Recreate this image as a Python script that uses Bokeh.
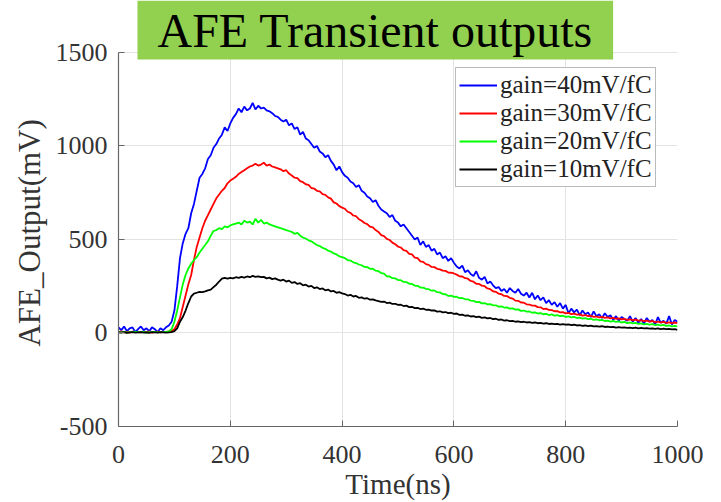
from bokeh.plotting import figure
from bokeh.models import Range1d, FixedTicker, Legend, LegendItem, Label
from bokeh.embed import file_html
from bokeh.resources import INLINE

time_ns = list(range(0, 1001, 5))

gain40 = [30,15,35,10,25,30,5,20,35,15,25,10,30,20,5,25,15,30,40,60,
          120,250,400,480,530,560,640,690,760,830,850,880,930,950,990,1010,1040,1060,1100,1080,
          1120,1150,1170,1200,1180,1210,1190,1200,1230,1195,1215,1200,1205,1190,1185,1175,1160,1155,1140,1130,
          1140,1110,1120,1090,1100,1060,1075,1040,1030,1010,990,1000,970,960,940,950,920,900,870,890,
          860,840,830,810,800,780,790,760,750,730,720,700,710,680,660,650,640,620,630,600,
          590,570,580,560,540,520,500,510,470,490,460,470,440,450,420,430,400,410,385,400,
          375,355,345,360,325,335,315,305,330,295,285,300,265,275,255,240,245,225,235,215,
          240,225,215,235,210,200,215,190,215,180,200,175,190,160,175,150,165,140,160,130,
          150,105,130,110,125,95,120,100,110,85,115,90,100,80,105,85,95,70,90,65,
          85,75,65,90,60,80,55,75,50,80,60,70,45,85,55,65,50,90,45,70,
          60]

gain30 = [5,8,3,6,2,7,4,5,3,6,4,8,2,5,7,3,6,4,8,10,
          20,45,80,140,200,260,310,390,460,510,560,600,630,660,690,720,740,760,775,800,
          815,825,835,850,860,870,880,890,895,905,895,900,910,895,900,890,885,880,875,865,
          870,852,842,830,828,812,806,795,792,775,772,760,757,742,738,725,718,698,692,678,
          670,664,648,642,628,624,608,600,588,582,568,564,550,540,523,518,503,497,483,474,
          462,457,443,439,423,420,403,400,383,380,368,364,353,352,343,340,333,332,323,322,
          318,312,303,302,293,290,278,274,263,262,253,250,238,234,223,220,210,207,198,197,
          188,184,173,172,163,162,153,152,146,146,138,137,128,130,123,122,116,117,110,111,
          105,107,101,103,98,99,93,96,90,92,86,88,83,86,81,83,78,81,76,78,
          73,76,70,73,68,71,66,68,63,66,61,64,58,61,56,59,54,57,53,56,
          53]

gain20 = [5,3,6,2,5,4,7,3,5,6,2,5,4,6,3,5,4,6,8,20,
          60,120,190,260,310,345,370,390,405,430,450,470,490,520,545,550,560,555,570,565,
          575,580,585,590,580,600,590,595,580,610,590,605,585,590,580,575,570,565,560,555,
          550,545,540,530,535,520,510,505,495,490,480,470,465,455,450,440,435,425,420,410,
          405,400,390,387,378,374,366,362,353,352,343,344,333,330,320,317,303,302,293,292,
          283,282,273,272,263,262,253,252,243,242,236,234,226,227,218,217,208,207,198,200,
          193,194,186,187,180,180,173,172,165,166,158,160,153,154,148,148,141,142,136,137,
          130,132,125,126,118,120,114,115,108,110,104,106,100,102,96,99,93,95,90,92,
          86,89,83,86,80,82,77,79,74,76,70,73,68,70,64,66,61,64,59,62,
          56,59,53,56,51,54,48,51,46,49,44,47,42,45,40,43,38,40,35,38,
          35]

gain10 = [3,2,4,1,3,5,2,3,4,2,3,1,4,3,2,4,3,2,3,5,
          10,25,60,85,120,160,195,210,215,220,218,222,228,232,245,258,275,290,295,290,
          295,292,298,295,300,296,302,298,305,300,303,298,300,292,296,288,292,285,280,285,
          275,280,268,272,262,266,255,258,248,252,240,244,235,238,228,232,222,225,215,218,
          212,208,200,204,195,198,188,190,183,186,178,180,174,170,166,168,160,162,155,156,
          150,151,144,146,138,140,133,134,128,130,124,125,120,121,114,116,110,112,106,108,
          102,104,97,98,92,94,88,90,85,87,81,83,78,80,74,76,70,72,66,68,
          63,65,60,62,58,60,56,58,54,56,52,54,50,52,48,50,47,49,45,47,
          44,46,42,44,40,42,38,40,37,39,35,37,34,36,32,34,31,33,29,31,
          28,30,27,29,26,28,25,27,24,26,23,25,22,24,21,23,20,22,19,20,
          16]

series_labels = ["gain=40mV/fC", "gain=30mV/fC", "gain=20mV/fC", "gain=10mV/fC"]
series_colors = ["#0000ff", "#ff0000", "#00ff00", "#000000"]
x_ticks = [0, 200, 400, 600, 800, 1000]
y_ticks = [-500, 0, 500, 1000, 1500]
y_tick_labels = {-500: "-500", 0: "0", 500: "500", 1000: "1000", 1500: "1500"}
y_min, y_max = -500, 1500

FONT = "Liberation Serif"

# frame spans the full height so the title box may overlap the top of the axes box
top_extra = 52 / (375 / (y_max - y_min))
p = figure(width=721, height=502, output_backend="svg", toolbar_location=None,
           x_range=Range1d(0, 1000), y_range=Range1d(y_min, y_max + top_extra),
           min_border_left=118, min_border_right=44, min_border_top=0, min_border_bottom=75)

renderers = []
for ys, c in zip([gain40, gain30, gain20, gain10], series_colors):
    r = p.line(time_ns, ys, line_color=c, line_width=1.8)
    renderers.append(r)

p.xaxis.ticker = FixedTicker(ticks=x_ticks)
p.yaxis.ticker = FixedTicker(ticks=y_ticks)
p.yaxis.major_label_overrides = y_tick_labels
p.yaxis.bounds = (y_min, y_max)
for ax in (p.xaxis[0], p.yaxis[0]):
    ax.major_label_text_font = FONT
    ax.major_label_text_font_size = "26px"
    ax.major_label_text_color = "#333333"
    ax.axis_label_text_font = FONT
    ax.axis_label_text_font_style = "normal"
    ax.axis_label_text_color = "#333333"
    ax.axis_line_color = "#666666"
    ax.axis_line_width = 1.2
    ax.major_tick_line_color = "#666666"
    ax.major_tick_in = 6
    ax.major_tick_out = 0
    ax.minor_tick_line_color = None
p.xaxis.axis_label = "Time(ns)"
p.xaxis.axis_label_text_font_size = "29px"
# trailing no-break spaces shift the centred label down to the centre of the axes box
p.yaxis.axis_label = "AFE_Output(mV)" + "\u00a0" * 5
p.yaxis.axis_label_text_font_size = "31px"
p.xaxis.major_label_standoff = 19
p.yaxis.major_label_standoff = 11
p.xaxis.axis_label_standoff = 2
p.yaxis.axis_label_standoff = 6

p.xgrid.grid_line_color = "#e3e3e3"
p.ygrid.grid_line_color = "#e3e3e3"
p.xgrid.cross_bounds = (y_min, y_max)
p.outline_line_color = None

legend = Legend(items=[LegendItem(label=l, renderers=[r]) for l, r in zip(series_labels, renderers)],
                location=(337, 239), margin=0, padding=3, spacing=0,
                glyph_width=38, glyph_height=28, label_height=28, label_standoff=3,
                label_text_font=FONT, label_text_font_size="25px", label_text_color="#222222",
                border_line_color="#777777", background_fill_alpha=1.0)
p.add_layout(legend)

title = Label(x=19, y=367, x_units="screen", y_units="screen",
              text="AFE Transient outputs", text_font=FONT, text_font_size="48px",
              text_color="#000000", background_fill_color="#92d050",
              padding=(20, 3), text_align="left", text_baseline="bottom")
p.add_layout(title)

open("out.html", "w").write(file_html(p, INLINE))
